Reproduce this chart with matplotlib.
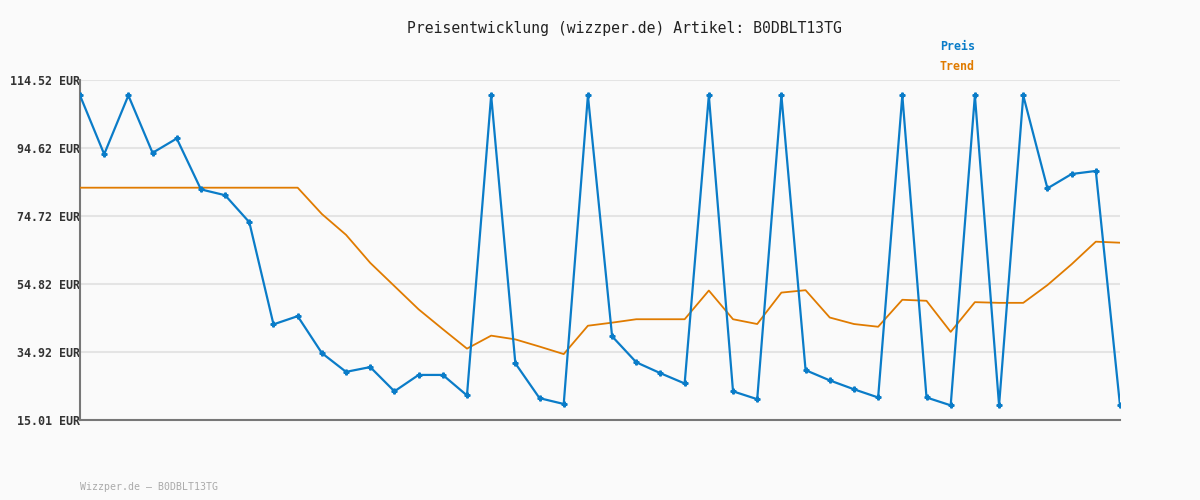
import matplotlib
matplotlib.use("Agg")
import matplotlib.pyplot as plt
import numpy as np

# values (EUR)
preis = [110.0, 92.8, 110.0, 93.2, 97.4, 82.5, 80.8, 72.9, 43.0, 45.4,
         34.6, 29.1, 30.5, 23.4, 28.2, 28.2, 22.2, 110.0, 31.6, 21.4,
         19.7, 110.0, 39.5, 31.9, 28.7, 25.7, 110.0, 23.4, 21.1, 110.0,
         29.6, 26.6, 24.0, 21.6, 110.0, 21.6, 19.3, 110.0, 19.3, 110.0,
         82.8, 87.0, 87.9, 19.3]
trend = [83.0, 83.0, 83.0, 83.0, 83.0, 83.0, 83.0, 83.0, 83.0, 83.0,
         75.3, 69.2, 61.0, 54.2, 47.4, 41.6, 35.9, 39.7, 38.6, 36.5,
         34.3, 42.6, 43.5, 44.5, 44.5, 44.5, 52.9, 44.5, 43.1, 52.3,
         53.0, 45.0, 43.1, 42.3, 50.2, 49.9, 40.8, 49.5, 49.3, 49.3,
         54.5, 60.6, 67.2, 66.9]
yticks = [15.01, 34.92, 54.82, 74.72, 94.62, 114.52]
ytick_labels = ["%.2f EUR" % v for v in yticks]

blue = "#0a7cc8"
orange = "#e07b00"
bg = "#fafafa"
mono = "DejaVu Sans Mono"

fig = plt.figure(figsize=(12, 5), dpi=100, facecolor=bg)
ax = fig.add_axes([80 / 1200, 80 / 500, 1040 / 1200, 340 / 500])
ax.set_facecolor(bg)

x = np.arange(len(preis))
ax.plot(x, trend, color=orange, lw=1.3, zorder=3)
ax.plot(x, preis, color=blue, lw=1.6, marker="P", ms=3.5, zorder=4)

ax.set_xlim(0, len(preis) - 1)
ax.set_ylim(yticks[0], yticks[-1])
ax.set_yticks(yticks)
ax.set_yticklabels(ytick_labels, family=mono, fontsize=8.4,
                   fontweight="bold", color="#333333")
ax.set_xticks([])
ax.tick_params(axis="y", length=0, pad=0)
ax.grid(axis="y", color="#e4e4e4", lw=1.5)
ax.set_axisbelow(True)

for s in ["top", "right"]:
    ax.spines[s].set_visible(False)
for s in ["left", "bottom"]:
    ax.spines[s].set_color("#777777")
    ax.spines[s].set_linewidth(1.5)

fig.text(0.52, 1 - 28 / 500, "Preisentwicklung (wizzper.de) Artikel: B0DBLT13TG",
         family=mono, fontsize=10.6, color="#222222", ha="center", va="center")
fig.text(940 / 1200, 1 - 47 / 500, "Preis", family=mono, fontsize=8.4,
         fontweight="bold", color=blue, ha="left", va="center")
fig.text(940 / 1200, 1 - 67 / 500, "Trend", family=mono, fontsize=8.4,
         fontweight="bold", color=orange, ha="left", va="center")
fig.text(80 / 1200, 1 - 487 / 500, "Wizzper.de \u2013 B0DBLT13TG", family=mono,
         fontsize=7.1, color="#aaaaaa", ha="left", va="center")

fig.savefig("out.png", dpi=100, facecolor=bg)
